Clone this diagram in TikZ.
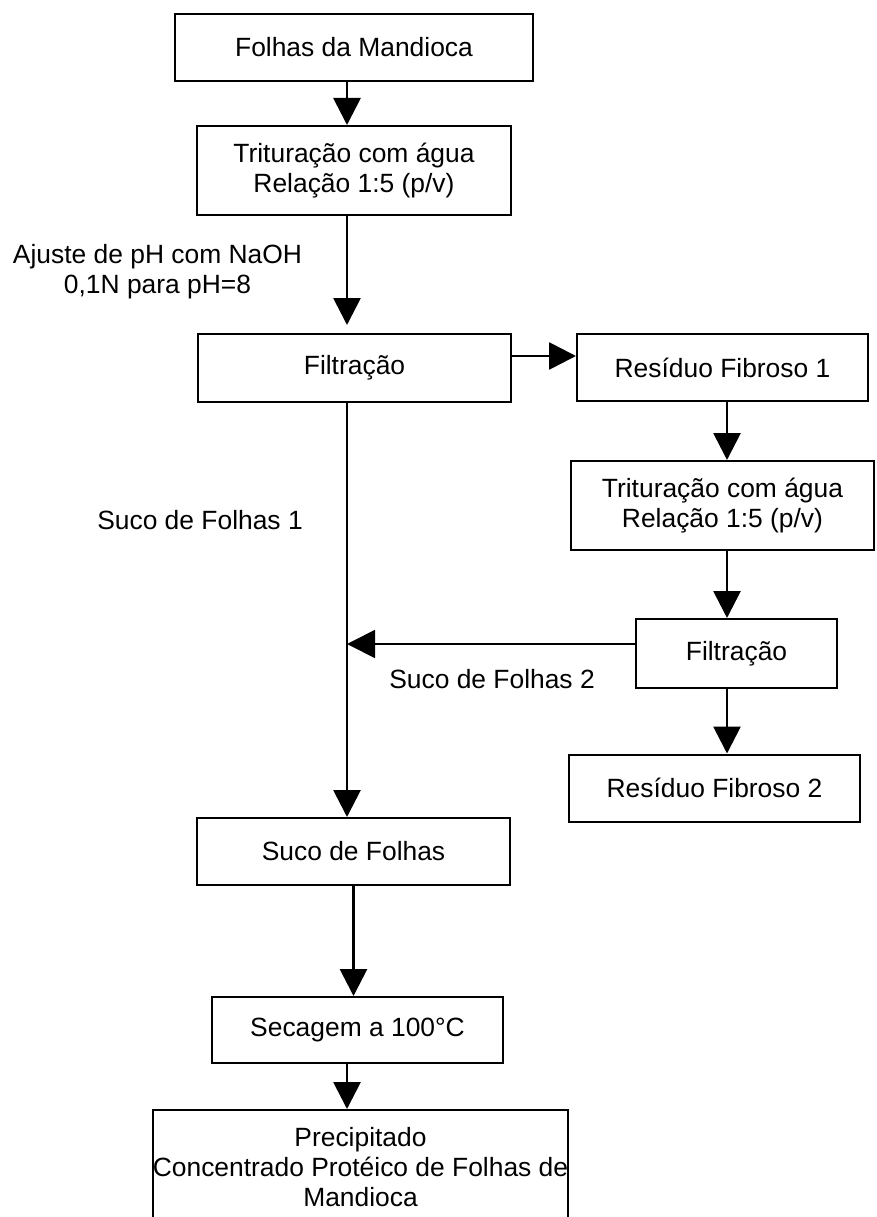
\documentclass[tikz,border=0pt]{standalone}
\usepackage{fontspec}
\setmainfont{Liberation Sans}
\usetikzlibrary{arrows.meta,calc}
\begin{document}
\begin{tikzpicture}[x=1pt,y=-1pt,
  txt/.style={font=\fontsize{26.4}{30}\selectfont, align=center},
  box/.style={txt, draw, line width=2pt, rectangle, inner sep=0pt},
  lbl/.style={txt, inner sep=0pt},
  flow/.style={line width=2.8pt, -{Triangle[length=27pt,width=27pt]}},
  thinflow/.style={line width=1.8pt, -{Triangle[length=28pt,width=28pt]}},
]
\useasboundingbox (0,0) rectangle (876,1217);
\clip (0,0) rectangle (876,1217);

% guide coordinates for the connectors
\coordinate (spine) at (347,0);
\coordinate (col2) at (727,0);
\coordinate (row1) at (0,356);
\coordinate (row2) at (0,644);

% process boxes
\node[box, minimum width=358pt, minimum height=67pt] (folhas) at (354,47.5) {Folhas da Mandioca};
\node[box, minimum width=314pt, minimum height=89pt] (trit1) at (354,170.5) {Trituração com água\\Relação 1:5 (p/v)};
\node[box, minimum width=313pt, minimum height=68pt] (filt1) at (354.5,368) {Filtração};
\node[box, minimum width=291pt, minimum height=67pt] (res1) at (722.5,367.5) {Resíduo Fibroso 1};
\node[box, minimum width=303pt, minimum height=89pt] (trit2) at (722.5,505.5) {Trituração com água\\Relação 1:5 (p/v)};
\node[box, minimum width=201pt, minimum height=69pt] (filt2) at (736.5,653.5) {Filtração};
\node[box, minimum width=291pt, minimum height=67pt] (res2) at (714.5,788) {Resíduo Fibroso 2};
\node[box, minimum width=313pt, minimum height=67pt] (suco) at (353.5,851.5) {Suco de Folhas};
\node[box, minimum width=291pt, minimum height=66pt] (sec) at (357.5,1030) {Secagem a 100°C};
\node[box, minimum width=415pt, minimum height=114pt, anchor=north] (precip) at (360.5,1109) {Precipitado\\Concentrado Protéico de Folhas de\\Mandioca};

% free labels
\node[lbl] (ajuste) at (157.5,272) {Ajuste de pH com NaOH\\0,1N para pH=8};
\node[lbl] (suco1) at (200,520) {Suco de Folhas 1};
\node[lbl] (suco2) at (492,679) {Suco de Folhas 2};

% connectors
\draw[flow] (folhas.south -| spine) -- (trit1.north -| spine);
\draw[flow, shorten >=8pt] (trit1.south -| spine) -- (filt1.north -| spine);
\draw[flow] (filt1.east |- row1) -- (res1.west |- row1);
\draw[flow] (res1.south -| col2) -- (trit2.north -| col2);
\draw[flow] (trit2.south -| col2) -- (filt2.north -| col2);
\draw[flow] (filt2.south -| col2) -- (res2.north -| col2);
\draw[thinflow] (filt2.west |- row2) -- (spine |- row2);
\draw[flow] (filt1.south -| spine) -- (suco.north -| spine);
\draw[flow] (suco.south) -- (sec.north -| suco.south);
\draw[flow] (sec.south -| spine) -- (precip.north -| spine);
\end{tikzpicture}
\end{document}
